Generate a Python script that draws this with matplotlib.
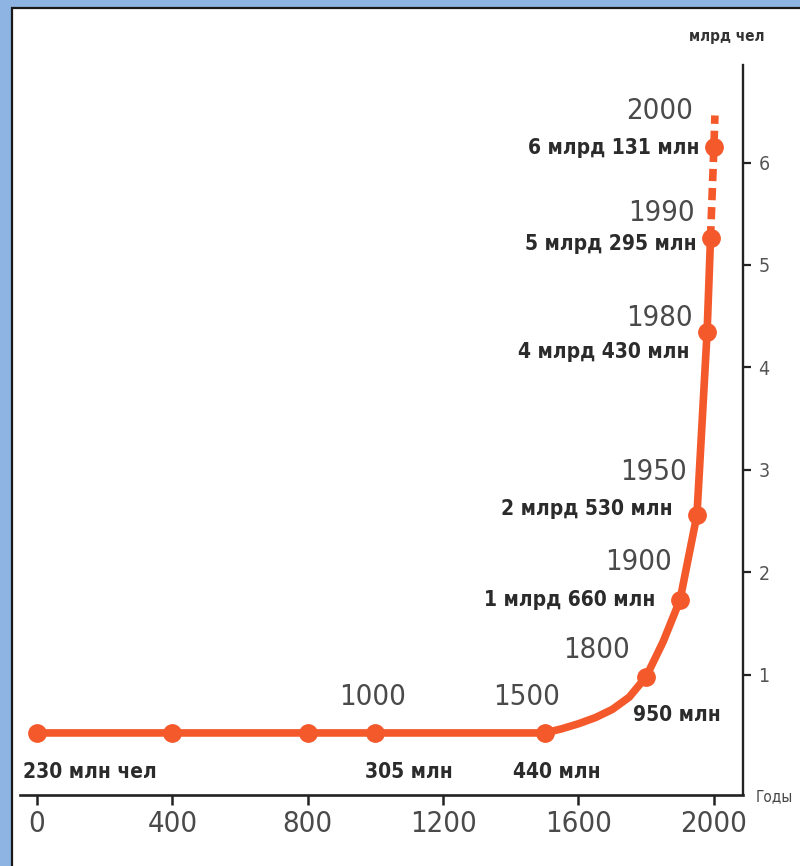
import matplotlib
matplotlib.use('Agg')
import matplotlib.pyplot as plt
from matplotlib import font_manager
from matplotlib.patches import Rectangle

# population curve, values (billions, as drawn)
years = [0, 400, 800, 1000, 1500, 1800, 1900, 1950, 1980, 1990, 2000]
pop = [0.43, 0.43, 0.43, 0.43, 0.43, 0.98, 1.73, 2.56, 4.35, 5.26, 6.15]

curve_years = [0, 400, 800, 1000, 1500, 1550, 1600, 1650, 1700, 1750, 1800, 1850, 1900, 1950, 1980, 1990]
curve_pop = [0.43, 0.43, 0.43, 0.43, 0.43, 0.47, 0.52, 0.58, 0.66, 0.78, 0.98, 1.32, 1.73, 2.56, 4.35, 5.26]

# dashed part after 1990
dash_years = [1990, 2000, 2003]
dash_pop = [5.26, 6.15, 6.46]

year_marks = [1000, 1500, 1800, 1900, 1950, 1980, 1990, 2000]
value_marks = [0, 1000, 1500, 1800, 1900, 1950, 1980, 1990, 2000]
value_texts = ['230 млн чел', '305 млн', '440 млн', '950 млн', '1 млрд 660 млн',
               '2 млрд 530 млн', '4 млрд 430 млн', '5 млрд 295 млн', '6 млрд 131 млн']

xticks = [0, 400, 800, 1200, 1600, 2000]
yticks = [1, 2, 3, 4, 5, 6]

# look for a condensed face, the drawing uses narrow lettering
fonts = font_manager.fontManager.ttflist
has_cond = any(f.name == 'DejaVu Sans' and f.stretch == 'condensed' for f in fonts)
narrow = 'DejaVu Sans'
stretch = 'condensed' if has_cond else 'normal'
k = 1.0 if has_cond else 0.85

orange = '#F4592B'

fig = plt.figure(figsize=(8, 8.66), dpi=100)
fig.patch.set_facecolor('#8DB4E2')
# white sheet with black border
fig.add_artist(Rectangle((12 / 800, -0.01), 1.0, 1 - 8 / 866 + 0.01, transform=fig.transFigure,
                         facecolor='white', edgecolor='#1a1a1a', linewidth=1.6, zorder=0))

ax = fig.add_axes([20 / 800, (866 - 795) / 866, 723 / 800, (795 - 65) / 866])
ax.set_facecolor('none')
ax.set_xlim(-50, 2086)
ax.set_ylim(-0.176, 6.953)

ax.plot(curve_years, curve_pop, color=orange, linewidth=5.5, solid_capstyle='round',
        solid_joinstyle='round', zorder=3)
ax.plot(dash_years, dash_pop, color=orange, linewidth=5.5, linestyle=(0, (1.6, 0.9)),
        dash_capstyle='butt', zorder=3)
ax.plot(years, pop, linestyle='none', marker='o', markersize=12.5, color=orange, zorder=4)

# year labels above the points
year_off = {1000: (-3, 36), 1500: (15, 36), 1800: (-16, 27), 1900: (-8, 38),
            1950: (-10, 43), 1980: (-14, 14), 1990: (-16, 25), 2000: (-21, 36)}
for yr in year_marks:
    v = pop[years.index(yr)]
    ax.annotate(str(yr), xy=(yr, v), xytext=year_off[yr], textcoords='offset pixels',
                ha='center' if yr == 1000 else 'right', va='center',
                fontsize=21 * k, color='#4a4a4a', family=narrow, fontstretch=stretch)

# population labels
val_off = {0: (-14, -39), 1000: (-10, -39), 1500: (-32, -39), 1800: (-13, -38),
           1900: (-25, 0), 1950: (-24, 6), 1980: (-18, -20), 1990: (-14, -6), 2000: (-14, -1)}
for yr, txt in zip(value_marks, value_texts):
    v = pop[years.index(yr)]
    ax.annotate(txt, xy=(yr, v), xytext=val_off[yr], textcoords='offset pixels',
                ha='left' if yr <= 1800 else 'right', va='center',
                fontsize=15 * k, fontweight='bold', color='#2b2b2b', family=narrow,
                fontstretch=stretch)

# axes
ax.spines['top'].set_visible(False)
ax.spines['left'].set_visible(False)
ax.spines['bottom'].set_linewidth(1.9)
ax.spines['right'].set_linewidth(1.7)
ax.spines['bottom'].set_color('#222222')
ax.spines['right'].set_color('#222222')

ax.set_xticks(xticks)
ax.set_xticklabels([str(t) for t in xticks], family=narrow, fontstretch=stretch,
                   fontsize=21 * k, color='#4a4a4a')
ax.tick_params(axis='x', direction='out', length=7, width=1.8, color='#222222', pad=4)

ax.yaxis.tick_right()
ax.set_yticks(yticks)
ax.set_yticklabels([str(t) for t in yticks], family=narrow, fontstretch=stretch,
                   fontsize=14, color='#555555')
ax.tick_params(axis='y', direction='out', length=6, width=1.6, color='#222222', pad=5)

fig.text(727 / 800, 1 - 37 / 866, 'млрд чел', ha='center', va='center', fontstretch=stretch,
         fontsize=11 * k, fontweight='bold', color='#333333', family=narrow)
fig.text(756 / 800, 1 - 797 / 866, 'Годы', ha='left', va='center', fontstretch=stretch,
         fontsize=11, color='#444444', family=narrow)

fig.savefig('out.png', dpi=100, facecolor=fig.get_facecolor())
